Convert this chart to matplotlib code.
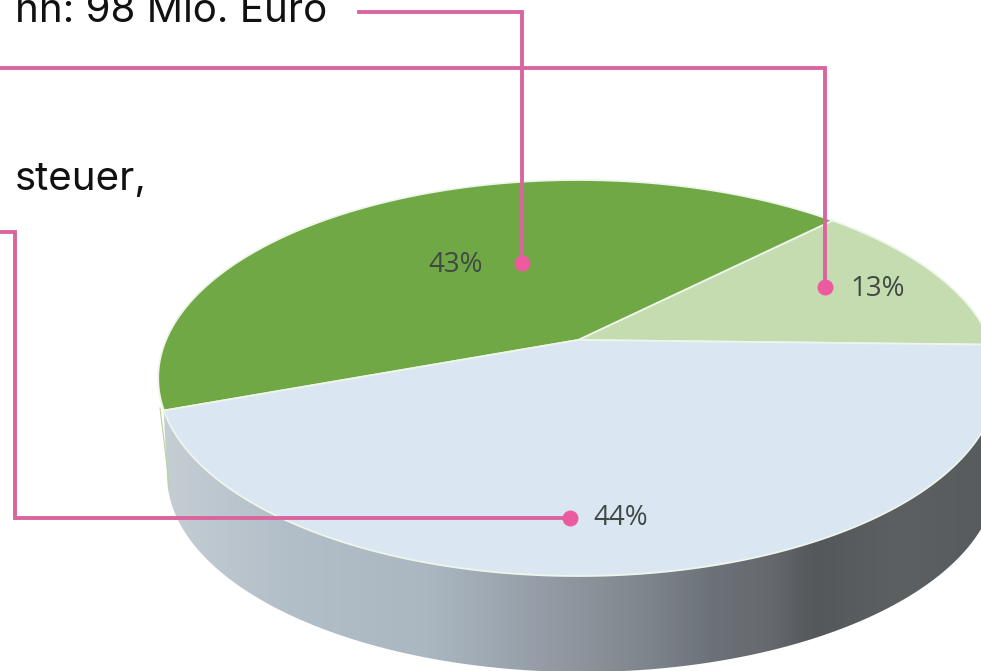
import numpy as np
import matplotlib
matplotlib.use('Agg')
import matplotlib.pyplot as plt
from matplotlib.colors import LinearSegmentedColormap
from matplotlib.patches import Polygon

# Pie values, counter-clockwise from the right edge
labels = ['13%', '43%', '44%']
shares = [13, 43, 44]
colors = ['#c5dcb0', '#70a845', '#dae6f2']
label_pos = [(878, 289), (456, 265), (621, 518)]

fig = plt.figure(figsize=(9.81, 6.71), dpi=100)
ax = fig.add_axes([0, 0, 1, 1])
ax.set_xlim(0, 981)
ax.set_ylim(671, 0)
ax.axis('off')

# Perspective view of the pie top
CX, CY, RX, RY, K = 578, 340, 412, 190.7, 0.192


def project(angle):
    u, v = np.cos(angle), np.sin(angle)
    d = 1 + K * v
    return CX + RX * u / d, CY - RY * v / d


# Side of the pie, a horizontal gradient clipped to the outline
t = np.radians(np.linspace(180, 360, 200))
bx = 582 + 415 * np.cos(t)
by = 475 - 197 * np.sin(t)
t2 = np.radians(np.linspace(0, 200, 200))
tx, ty = project(t2)
outline = np.column_stack([np.r_[bx, tx], np.r_[by, ty]])
side_cmap = LinearSegmentedColormap.from_list('side', [
    (0.00, '#c6ced4'), (0.15, '#b2bec8'), (0.32, '#aab6c0'), (0.45, '#959ea7'),
    (0.58, '#7e858c'), (0.66, '#6c7178'), (0.72, '#676b70'), (0.78, '#55585b'),
    (0.88, '#5c6063'), (1.00, '#565b5e')])
img = ax.imshow(np.linspace(0, 1, 400).reshape(1, -1), cmap=side_cmap, aspect='auto',
                extent=(160, 1000, 680, 340), zorder=1)
ax.set_xlim(0, 981)
ax.set_ylim(671, 0)
clip = Polygon(outline, closed=True, transform=ax.transData, fc='none', ec='none')
ax.add_patch(clip)
img.set_clip_path(clip)
ax.plot([160, 170], [408, 490], color='#b5d59a', lw=0.8, zorder=2)

# Top face
start = np.radians(-1.4)
for share, color in zip(shares, colors):
    end = start + share / sum(shares) * 2 * np.pi
    x, y = project(np.linspace(start, end, 200))
    ax.fill(np.r_[CX, x], np.r_[CY, y], facecolor=color, edgecolor='#eef5ea',
            lw=1.3, joinstyle='round', zorder=3)
    start = end

for text, (lx, ly) in zip(labels, label_pos):
    ax.text(lx, ly, text, fontsize=20, family='Open Sans', color='#404a44',
            ha='center', va='center', zorder=4)

# Pink callouts
pink = '#d9659f'
dot = '#ec5a9f'
ax.plot([359, 522, 522], [12, 12, 263], color=pink, lw=2.8, zorder=5, solid_joinstyle='miter')
ax.plot([0, 825, 825], [68, 68, 287], color=pink, lw=2.8, zorder=5, solid_joinstyle='miter')
ax.plot([0, 15, 15, 570], [232, 232, 518, 518], color=pink, lw=2.8, zorder=5, solid_joinstyle='miter')
ax.plot([522, 825, 570], [263, 287, 518], ls='none', marker='o', ms=11.5, color=dot, mec='none', zorder=6)

# Text cut off by the left edge
ax.text(327, 22, 'nn: 98 Mio. Euro', fontsize=29, family='Inter', color='#111111', ha='right', va='baseline')
ax.text(147, 190, 'steuer,', fontsize=29, family='Inter', color='#111111', ha='right', va='baseline')

fig.savefig('out.png', dpi=100)
